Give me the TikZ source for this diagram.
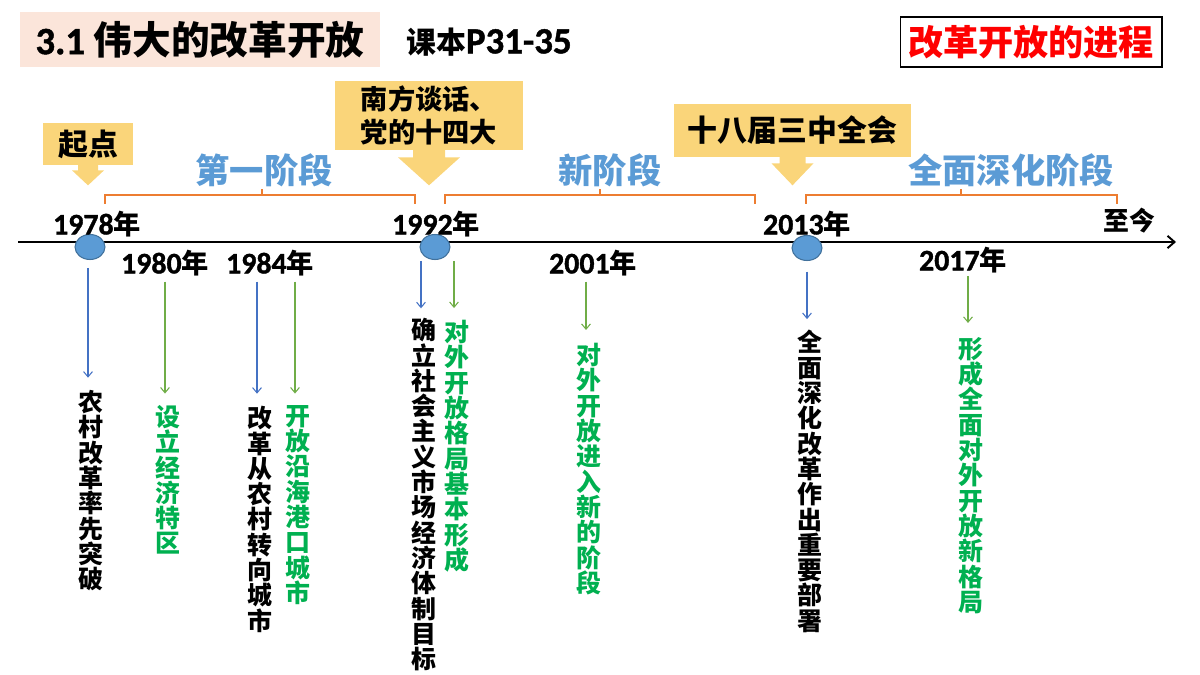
\documentclass[tikz,border=0pt]{standalone}
\usepackage{fontspec}
\setmainfont{Noto Sans CJK SC}
\newfontfamily\lat{Carlito}[BoldFeatures={FakeBold=1.2}]
\usetikzlibrary{shapes.geometric,arrows.meta}

% break between every two CJK characters
\XeTeXlinebreaklocale "zh"
\XeTeXlinebreakskip=0pt plus 1pt

\definecolor{titlebg}{HTML}{FBE5DA}
\definecolor{callbg}{HTML}{FAD57A}
\definecolor{bracecol}{HTML}{ED7D31}
\definecolor{stageblue}{HTML}{5B9BD5}
\definecolor{dotline}{HTML}{41719C}
\definecolor{arrblue}{HTML}{4472C4}
\definecolor{arrgreen}{HTML}{70AD47}
\definecolor{txtgreen}{HTML}{00B050}
\definecolor{txtred}{HTML}{FF0000}

\newcommand\yr[1]{{\lat\fontsize{17}{20}\selectfont #1}年}

\tikzset{
    year/.style={font=\fontsize{15.5}{18}\selectfont\bfseries, inner sep=0pt},
    vtext/.style={font=\fontsize{14.2}{14.4}\selectfont\bfseries, text width=1.1em,
        align=center, inner sep=0pt, anchor=north},
    stage/.style={font=\fontsize{19.5}{22}\selectfont\bfseries, text=stageblue},
    callbox/.style={fill=callbg, inner sep=0pt},
    dot/.style={ellipse, fill=stageblue, draw=dotline, line width=0.6pt,
        minimum width=0.6cm, minimum height=0.5cm, inner sep=0pt},
    barrow/.style={-{Straight Barb[length=3pt,width=5pt]}, draw=arrblue, line width=0.6pt},
    garrow/.style={-{Straight Barb[length=3pt,width=5pt]}, draw=arrgreen, line width=0.6pt},
    brace/.style={draw=bracecol, line width=0.8pt}
}

\begin{document}
\begin{tikzpicture}[x=0.02cm, y=-0.02cm]
    \useasboundingbox (0,0) rectangle (1200,675);

    % heading
    \node[fill=titlebg, minimum width=7.2cm, minimum height=1.1cm,
        font=\fontsize{22}{24}\selectfont\bfseries] (title) at (200,39.5) {{\lat 3.1} 伟大的改革开放};
    \node[anchor=west, font=\fontsize{17}{20}\selectfont\bfseries] (book) at (400,42)
        {课本{\lat\fontsize{21}{22}\selectfont P31-35}};
    \node[draw=black, line width=0.6pt, minimum width=5.24cm, minimum height=1cm, text=txtred,
        font=\fontsize{20}{22}\selectfont\bfseries] (goal) at (1031,42) {改革开放的进程};

    % callouts
    \node[callbox, minimum width=1.82cm, minimum height=0.84cm,
        font=\fontsize{17}{20}\selectfont\bfseries] (qd) at (88,144) {起点};
    \fill[callbg] ([shift={(-10,-1)}]qd.south) -- ++(0,6) -- ++(-6,0) -- ++(16,15)
        -- ++(16,-15) -- ++(-6,0) -- ++(0,-6) -- cycle;
    \node[callbox, minimum width=3.76cm, minimum height=1.38cm, align=left,
        font=\fontsize{15.5}{18.7}\selectfont\bfseries] (nf) at (429,115.5) {南方谈话、\\党的十四大};
    \fill[callbg] ([shift={(-16,-1)}]nf.south) -- ++(0,8) -- ++(-15,0) -- ++(31,28)
        -- ++(31,-28) -- ++(-15,0) -- ++(0,-8) -- cycle;
    \node[callbox, minimum width=4.74cm, minimum height=1.06cm,
        font=\fontsize{17}{20}\selectfont\bfseries] (sb) at (792.5,130.5) {十八届三中全会};
    \fill[callbg] ([shift={(-13,-1)}]sb.south) -- ++(0,7) -- ++(-8,0) -- ++(21,22)
        -- ++(21,-22) -- ++(-8,0) -- ++(0,-7) -- cycle;

    % stages
    \node[stage] (s1) at (264,170) {第一阶段};
    \node[stage] (s2) at (610,170) {新阶段};
    \node[stage] (s3) at (1011,170) {全面深化阶段};
    \draw[brace] (105,204) -- (105,195) -- (415,195) -- (415,204) (262,195) -- (262,189);
    \draw[brace] (445,204) -- (445,195) -- (755,195) -- (755,204) (600,195) -- (600,189);
    \draw[brace] (806,204) -- (806,195) -- (1117,195) -- (1117,204) (961,195) -- (961,189);

    % time line
    \coordinate (ts) at (18,242);
    \coordinate (te) at (1176,242);
    \draw[-{Straight Barb[length=4pt,width=7pt]}, line width=1.1pt] (ts) -- (te);
    \node[dot] (c78) at (90,247) {};
    \node[dot] (c92) at (435,247) {};
    \node[dot] (c13) at (807,248) {};

    \node[year] (y78) at (97,224) {\yr{1978}};
    \node[year] (y92) at (436,224) {\yr{1992}};
    \node[year] (y13) at (807,224) {\yr{2013}};
    \node[year, font=\fontsize{14.7}{16}\selectfont\bfseries] (now) at (1129,221) {至今};
    \node[year] (y80) at (165,263) {\yr{1980}};
    \node[year] (y84) at (270,263) {\yr{1984}};
    \node[year] (y01) at (593,263) {\yr{2001}};
    \node[year] (y17) at (963,260) {\yr{2017}};

    % events
    \node[vtext] (t78) at (88,390) {农村改革率先突破};
    \node[vtext, text=txtgreen] (t80) at (165,405) {设立经济特区};
    \node[vtext] (t84a) at (257,406) {改革从农村转向城市};
    \node[vtext, text=txtgreen] (t84b) at (295,405) {开放沿海港口城市};
    \node[vtext] (t92a) at (421,318) {确立社会主义市场经济体制目标};
    \node[vtext, text=txtgreen] (t92b) at (454,320) {对外开放格局基本形成};
    \node[vtext, text=txtgreen] (t01) at (586,343) {对外开放进入新的阶段};
    \node[vtext] (t13) at (807,330) {全面深化改革作出重要部署};
    \node[vtext, text=txtgreen] (t17) at (968,337) {形成全面对外开放新格局};

    \draw[barrow, shorten <=4.5pt, shorten >=7pt] (c78.south -| t78.north) -- (t78.north);
    \draw[garrow, shorten <=3pt, shorten >=6.5pt] (y80.south -| t80.north) -- (t80.north);
    \draw[barrow, shorten <=3pt, shorten >=7pt] (y84.south -| t84a.north) -- (t84a.north);
    \draw[garrow, shorten <=3pt, shorten >=6.5pt] (y84.south -| t84b.north) -- (t84b.north);
    \draw[barrow, shorten <=0.5pt, shorten >=5.5pt] (c92.south -| t92a.north) -- (t92a.north);
    \draw[garrow, shorten <=0.5pt, shorten >=6.8pt] (c92.south -| t92b.north) -- (t92b.north);
    \draw[garrow, shorten <=3pt, shorten >=7.4pt] (y01.south -| t01.north) -- (t01.north);
    \draw[barrow, shorten <=6pt, shorten >=6.2pt] (c13.south) -- (c13.south |- t13.north);
    \draw[garrow, shorten <=1.7pt, shorten >=8pt] (y17.south -| t17.north) -- (t17.north);
\end{tikzpicture}
\end{document}
